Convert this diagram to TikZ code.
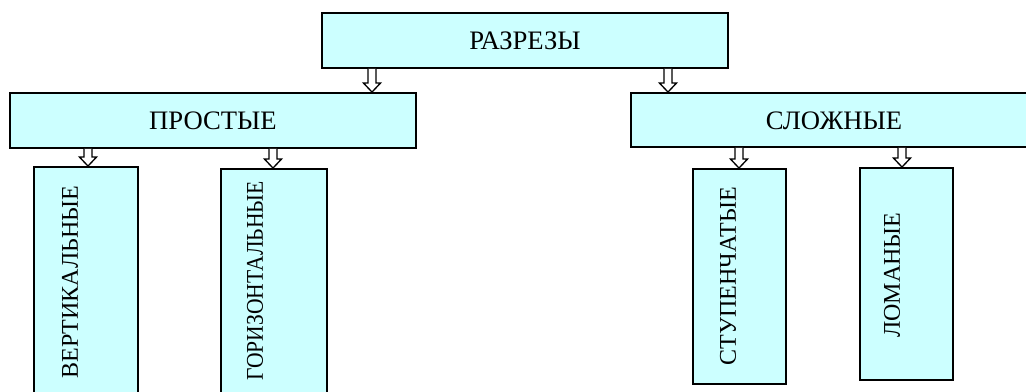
\documentclass[tikz,border=0pt]{standalone}
\usepackage{fontspec}
\usepackage{graphicx}
\setmainfont{Liberation Serif}
\usetikzlibrary{calc,fit}
\definecolor{boxfill}{HTML}{CCFFFF}
\tikzset{
  box/.style={draw=black, line width=1.4pt, fill=boxfill, inner sep=0pt, rectangle},
  lbl/.style={inner sep=0pt, font=\fontsize{20}{22}\selectfont},
  vlbl/.style={inner sep=0pt, font=\fontsize{18}{20}\selectfont, rotate=90},
  arr/.style={draw=black, line width=1pt, fill=white, line join=miter},
}
\newcommand{\harrow}[3]{%
  \coordinate (hx) at (#1,0);
  \path (#2.south -| hx) coordinate (hs) (#3.north -| hx) coordinate (he);
  \draw[arr] ($(hs)+(-4,0)$) -- ($(he)+(-4,-9)$) -- ($(he)+(-8.5,-9)$) -- (he)
    -- ($(he)+(8.5,-9)$) -- ($(he)+(4,-9)$) -- ($(hs)+(4,0)$);
}
\begin{document}
\begin{tikzpicture}[x=0.75pt, y=-0.75pt]
\useasboundingbox (0,0) rectangle (1026,392);
\clip (0,0) rectangle (1026,392);
% boxes
\node[box, fit={(322,13) (728,68)}] (top) {};
\node[box, fit={(10,93) (416,148)}] (prost) {};
\node[box, fit={(631,93) (1045,147)}] (slozh) {};
\node[box, fit={(34,167) (138,410)}] (vert) {};
\node[box, fit={(221,169) (327,410)}] (gor) {};
\node[box, fit={(693,169) (786,384)}] (stup) {};
\node[box, fit={(860,168) (953,380)}] (lom) {};
% labels
\node[lbl] (tTop) at (525,41) {РАЗРЕЗЫ};
\node[lbl] (tProst) at (213,120.5) {ПРОСТЫЕ};
\node[lbl] (tSlozh) at (834,120.5) {СЛОЖНЫЕ};
\node[vlbl] (tVert) at (70,282) {ВЕРТИКАЛЬНЫЕ};
\node[vlbl] (tGor) at (255,281) {\scalebox{0.9}[1]{ГОРИЗОНТАЛЬНЫЕ}};
\node[vlbl] (tStup) at (728,276) {СТУПЕНЧАТЫЕ};
\node[vlbl] (tLom) at (892,275) {ЛОМАНЫЕ};
% arrows
\harrow{372}{top}{prost}
\harrow{668}{top}{slozh}
\harrow{88}{prost}{vert}
\harrow{273}{prost}{gor}
\harrow{739}{slozh}{stup}
\harrow{902}{slozh}{lom}
\end{tikzpicture}
\end{document}
